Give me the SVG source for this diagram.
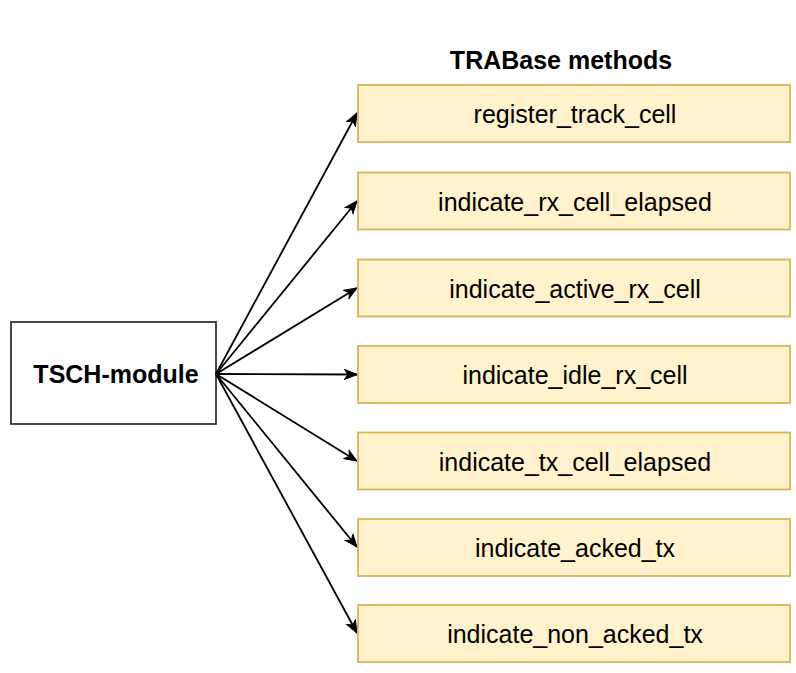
<svg xmlns="http://www.w3.org/2000/svg" width="796" height="673" viewBox="0 0 796 673">
  <style>
    .method rect { fill: #fff2cc; stroke: #d6b656; stroke-width: 1.8; }
    .method text { font-family: "Liberation Sans", Arial, sans-serif; font-size: 25px; fill: #000; text-anchor: middle; dominant-baseline: central; }
    .bold { font-family: "Liberation Sans", Arial, sans-serif; font-size: 25px; font-weight: bold; fill: #000; text-anchor: middle; dominant-baseline: central; }
    .edge { stroke: #000; stroke-width: 1.8; fill: none; marker-end: url(#arrow); }
  </style>
  <defs>
    <marker id="arrow" viewBox="0 0 14 12" refX="13" refY="6" markerWidth="14" markerHeight="12" markerUnits="userSpaceOnUse" orient="auto">
      <path d="M0.5,1 L13,6 L0.5,11 L4,6 Z" fill="#000" stroke="#000" stroke-width="1"/>
    </marker>
  </defs>
  <rect width="796" height="673" fill="#fff"/>

  <text class="bold" x="561" y="60">TRABase methods</text>

  <g id="tsch-module">
    <rect x="11" y="322" width="205" height="102" fill="#fff" stroke="#333" stroke-width="1.8"/>
    <text class="bold" x="116" y="374">TSCH-module</text>
  </g>

  <g id="connectors">
    <line class="edge" x1="216" y1="374" x2="357" y2="113"/>
    <line class="edge" x1="216" y1="374" x2="357" y2="201"/>
    <line class="edge" x1="216" y1="374" x2="357" y2="288"/>
    <line class="edge" x1="216" y1="374" x2="357" y2="374.5"/>
    <line class="edge" x1="216" y1="374" x2="357" y2="461"/>
    <line class="edge" x1="216" y1="374" x2="357" y2="547"/>
    <line class="edge" x1="216" y1="374" x2="357" y2="633"/>
  </g>

  <g id="register_track_cell" class="method">
    <rect x="358" y="85" width="432" height="57"/>
    <text x="575" y="114">register_track_cell</text>
  </g>
  <g id="indicate_rx_cell_elapsed" class="method">
    <rect x="358" y="172.5" width="432" height="57"/>
    <text x="575" y="201.5">indicate_rx_cell_elapsed</text>
  </g>
  <g id="indicate_active_rx_cell" class="method">
    <rect x="358" y="259.5" width="432" height="57"/>
    <text x="575" y="288.5">indicate_active_rx_cell</text>
  </g>
  <g id="indicate_idle_rx_cell" class="method">
    <rect x="358" y="346" width="432" height="57"/>
    <text x="575" y="375">indicate_idle_rx_cell</text>
  </g>
  <g id="indicate_tx_cell_elapsed" class="method">
    <rect x="358" y="432.5" width="432" height="57"/>
    <text x="575" y="461.5">indicate_tx_cell_elapsed</text>
  </g>
  <g id="indicate_acked_tx" class="method">
    <rect x="358" y="519" width="432" height="57"/>
    <text x="575" y="548">indicate_acked_tx</text>
  </g>
  <g id="indicate_non_acked_tx" class="method">
    <rect x="358" y="605" width="432" height="57"/>
    <text x="575" y="634">indicate_non_acked_tx</text>
  </g>
</svg>
